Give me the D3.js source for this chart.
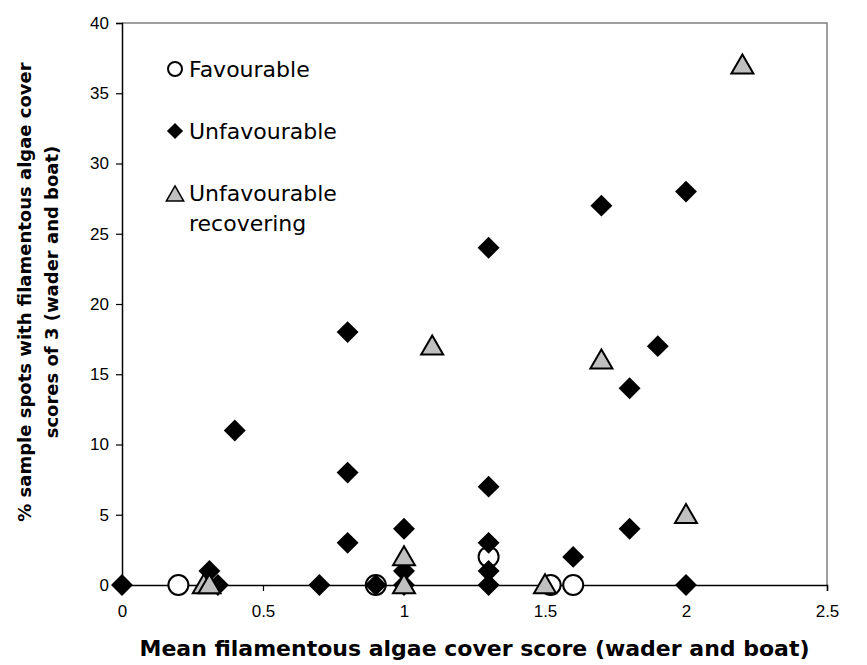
<!DOCTYPE html>
<html>
<head>
<meta charset="utf-8">
<script src="https://cdn.jsdelivr.net/npm/d3@7"></script>
<style>
  body { margin: 0; background: #fff; }
  svg { display: block; }
</style>
</head>
<body>
<div id="chart"></div>
<script>
// x = mean algae cover score, y = % spots with score 3
const favourableX = [0.2, 0.9, 1.3, 1.52, 1.6];
const favourableY = [0, 0, 2, 0, 0];

const unfavourableX = [0, 0.31, 0.34, 0.4, 0.7, 0.8, 0.8, 0.8, 0.9, 1.0, 1.0, 1.0, 1.3, 1.3, 1.3, 1.3, 1.3, 1.6, 1.7, 1.8, 1.8, 1.9, 2.0, 2.0];
const unfavourableY = [0, 1, 0, 11, 0, 18, 8, 3, 0, 4, 1, 0, 24, 7, 3, 1, 0, 2, 27, 14, 4, 17, 28, 0];

const recoveringX = [0.29, 0.31, 1.0, 1.0, 1.1, 1.5, 1.7, 2.0, 2.2];
const recoveringY = [0, 0, 2, 0, 17, 0, 16, 5, 37];

const xTicks = [0, 0.5, 1, 1.5, 2, 2.5];
const yTicks = [0, 5, 10, 15, 20, 25, 30, 35, 40];

const width = 867;
const height = 665;
const margin = { top: 23, right: 40, bottom: 80, left: 122 };

const svg = d3.select('#chart')
  .append('svg')
  .attr('width', width)
  .attr('height', height);

const x = d3.scaleLinear()
  .domain([0, 2.5])
  .range([margin.left, width - margin.right]);

const y = d3.scaleLinear()
  .domain([0, 40])
  .range([height - margin.bottom, margin.top]);

// gray frame on top and right
svg.append('path')
  .attr('d', `M${x(0)},${y(40)}H${x(2.5)}V${y(0)}`)
  .attr('fill', 'none')
  .attr('stroke', '#808080')
  .attr('stroke-width', 1.5);

const xAxis = svg.append('g')
  .attr('transform', `translate(0, ${y(0)})`)
  .call(d3.axisBottom(x).tickValues(xTicks).tickSize(6).tickPadding(14).tickFormat(d3.format('')));

const yAxis = svg.append('g')
  .attr('transform', `translate(${x(0)}, 0)`)
  .call(d3.axisLeft(y).tickValues(yTicks).tickSize(6).tickPadding(7));

[xAxis, yAxis].forEach(g => {
  g.select('.domain').attr('stroke', '#000').attr('stroke-width', 1.5);
  g.selectAll('.tick line').attr('stroke', '#000').attr('stroke-width', 1.2);
  g.selectAll('text')
    .attr('font-family', 'Liberation Sans, Arial, sans-serif')
    .attr('font-size', '17px')
    .attr('fill', '#000');
});

const toPoints = (xs, ys) => xs.map((v, i) => ({ x: v, y: ys[i] }));

const diamond = d3.symbol().type(d3.symbolSquare).size(240);
const triangle = d3.symbol().type(d3.symbolTriangle).size(210);

// draw order: circles, diamonds, triangles
svg.append('g')
  .selectAll('circle')
  .data(toPoints(favourableX, favourableY))
  .join('circle')
  .attr('cx', d => x(d.x))
  .attr('cy', d => y(d.y))
  .attr('r', 10)
  .attr('fill', '#fff')
  .attr('stroke', '#000')
  .attr('stroke-width', 2);

svg.append('g')
  .selectAll('path')
  .data(toPoints(unfavourableX, unfavourableY))
  .join('path')
  .attr('d', diamond)
  .attr('transform', d => `translate(${x(d.x)},${y(d.y)}) rotate(45)`)
  .attr('fill', '#000');

svg.append('g')
  .selectAll('path')
  .data(toPoints(recoveringX, recoveringY))
  .join('path')
  .attr('d', triangle)
  .attr('transform', d => `translate(${x(d.x)},${y(d.y) + 2})`)
  .attr('fill', '#c0c0c0')
  .attr('stroke', '#000')
  .attr('stroke-width', 2);

// legend
const legend = svg.append('g')
  .attr('font-family', 'DejaVu Sans, Verdana, sans-serif')
  .attr('font-size', '22px')
  .attr('fill', '#000');

legend.append('circle')
  .attr('cx', 175).attr('cy', 69).attr('r', 7)
  .attr('fill', '#fff').attr('stroke', '#000').attr('stroke-width', 2);
legend.append('text').attr('x', 189).attr('y', 77).text('Favourable');

legend.append('path')
  .attr('d', d3.symbol().type(d3.symbolSquare).size(130))
  .attr('transform', 'translate(175,131) rotate(45)')
  .attr('fill', '#000');
legend.append('text').attr('x', 189).attr('y', 139).text('Unfavourable');

legend.append('path')
  .attr('d', d3.symbol().type(d3.symbolTriangle).size(130))
  .attr('transform', 'translate(175,196)')
  .attr('fill', '#c0c0c0').attr('stroke', '#000').attr('stroke-width', 1.5);
legend.append('text').attr('x', 189).attr('y', 201).text('Unfavourable');
legend.append('text').attr('x', 189).attr('y', 231).text('recovering');

// axis titles
svg.append('text')
  .attr('x', (x(0) + x(2.5)) / 2)
  .attr('y', 656)
  .attr('text-anchor', 'middle')
  .attr('font-family', 'DejaVu Sans, Verdana, sans-serif')
  .attr('font-weight', 'bold')
  .attr('font-size', '22px')
  .text('Mean filamentous algae cover score (wader and boat)');

const yTitle = svg.append('text')
  .attr('transform', `translate(0, ${(y(0) + y(40)) / 2 - 12}) rotate(-90)`)
  .attr('text-anchor', 'middle')
  .attr('font-family', 'DejaVu Sans, Verdana, sans-serif')
  .attr('font-weight', 'bold')
  .attr('font-size', '18px');
yTitle.append('tspan').attr('x', 0).attr('y', 31).text('% sample spots with filamentous algae cover');
yTitle.append('tspan').attr('x', 0).attr('y', 58).text('scores of 3 (wader and boat)');
</script>
</body>
</html>
